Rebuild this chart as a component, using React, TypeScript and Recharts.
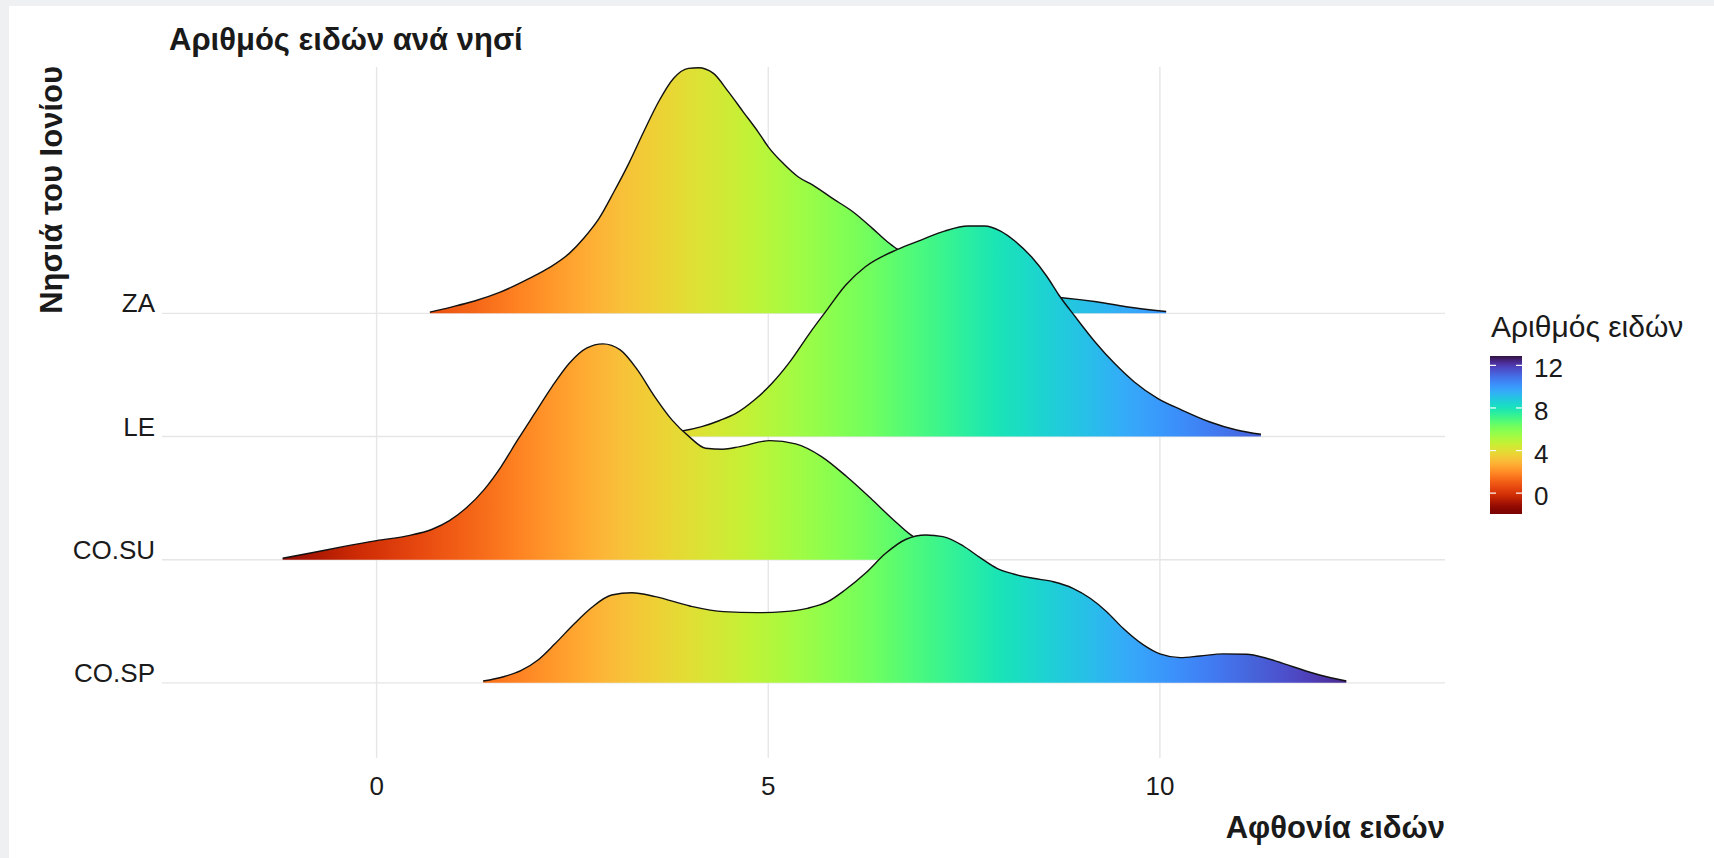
import React from "react";
import { ComposedChart, Area, XAxis, YAxis, CartesianGrid } from "recharts";

// islands from the bottom ridge up
const islands = ["CO.SP", "CO.SU", "LE", "ZA"];
const islandTicks = [1, 2, 3, 4];
const xTicks = [0, 5, 10];
const xDomain = [-2.74, 13.64];
const yDomain = [0.39, 6.0];
const legendTicks = [0, 4, 8, 12];
const fillLimits = [-1.96, 12.88];

// density height of each ridge, in units of the ridge spacing
const zaX = [0.68, 0.94, 1.25, 1.57, 1.95, 2.21, 2.46, 2.65, 2.84, 3.03, 3.22, 3.41, 3.6, 3.79, 3.98, 4.11, 4.3, 4.49, 4.68, 4.87, 5.0, 5.19, 5.38, 5.57, 5.82, 6.08, 6.33, 6.52, 6.65, 7.0, 7.4, 7.8, 8.2, 8.5, 8.75, 9.19, 9.57, 10.08];
const zaH = [0.01, 0.049, 0.1, 0.17, 0.284, 0.373, 0.487, 0.614, 0.771, 0.987, 1.218, 1.474, 1.718, 1.907, 1.989, 1.994, 1.948, 1.8, 1.636, 1.474, 1.352, 1.218, 1.109, 1.041, 0.933, 0.825, 0.69, 0.581, 0.519, 0.38, 0.26, 0.19, 0.16, 0.14, 0.127, 0.094, 0.054, 0.015];

const leX = [2.9, 3.2, 3.5, 3.7, 3.9, 4.15, 4.38, 4.58, 4.83, 5.03, 5.28, 5.53, 5.74, 5.99, 6.24, 6.65, 6.95, 7.25, 7.55, 7.76, 7.96, 8.16, 8.36, 8.56, 8.71, 8.92, 9.17, 9.42, 9.67, 9.97, 10.28, 10.63, 10.98, 11.29];
const leH = [0.005, 0.012, 0.022, 0.032, 0.045, 0.08, 0.13, 0.185, 0.3, 0.42, 0.61, 0.84, 1.02, 1.23, 1.378, 1.519, 1.595, 1.668, 1.709, 1.709, 1.67, 1.581, 1.459, 1.297, 1.149, 0.972, 0.77, 0.594, 0.445, 0.31, 0.215, 0.12, 0.053, 0.018];

const cosuX = [-1.2, -0.81, -0.43, 0.0, 0.39, 0.71, 0.93, 1.15, 1.37, 1.59, 1.8, 2.02, 2.24, 2.46, 2.68, 2.89, 3.11, 3.33, 3.55, 3.77, 3.99, 4.2, 4.42, 4.64, 5.02, 5.35, 5.68, 6.0, 6.33, 6.6, 6.82, 7.1, 7.4, 7.72];
const cosuH = [0.012, 0.058, 0.106, 0.155, 0.193, 0.247, 0.317, 0.423, 0.567, 0.756, 0.972, 1.189, 1.405, 1.595, 1.717, 1.752, 1.703, 1.541, 1.324, 1.135, 0.999, 0.905, 0.897, 0.918, 0.967, 0.94, 0.837, 0.675, 0.485, 0.323, 0.201, 0.1, 0.035, 0.005];

const cospX = [1.36, 1.62, 1.84, 2.06, 2.27, 2.53, 2.75, 3.0, 3.26, 3.56, 4.0, 4.43, 4.86, 5.2, 5.5, 5.76, 5.98, 6.24, 6.5, 6.76, 7.01, 7.23, 7.49, 7.7, 7.92, 8.13, 8.38, 8.64, 8.89, 9.11, 9.32, 9.53, 9.79, 10.0, 10.26, 10.51, 10.81, 11.11, 11.36, 11.7, 12.04, 12.38];
const cospH = [0.015, 0.05, 0.099, 0.186, 0.313, 0.484, 0.614, 0.713, 0.732, 0.7, 0.624, 0.578, 0.57, 0.578, 0.605, 0.659, 0.754, 0.89, 1.052, 1.166, 1.2, 1.187, 1.111, 1.019, 0.93, 0.884, 0.849, 0.821, 0.768, 0.687, 0.578, 0.443, 0.308, 0.235, 0.205, 0.218, 0.235, 0.232, 0.2, 0.131, 0.064, 0.015];

// drawn top first so the lower ridges overlap the upper ones
const ridges = [
  { key: "za", base: 4, xs: zaX, hs: zaH },
  { key: "le", base: 3, xs: leX, hs: leH },
  { key: "cosu", base: 2, xs: cosuX, hs: cosuH },
  { key: "cosp", base: 1, xs: cospX, hs: cospH },
];

const FONT = "'Liberation Sans', Arial, sans-serif";
const TEXT = "#1a1a1a";

// turbo colormap: polynomial approximation corrected to the viridisLite anchors
const turboAnchors = ["#30123B", "#4662D7", "#36AAF9", "#1AE4B6", "#72FE5E", "#C7EF34", "#FABA39", "#F66B19", "#CB2A04", "#7A0403"];

function turboPoly(t: number) {
  const r = 0.13572138 + t * (4.6153926 + t * (-42.66032258 + t * (132.13108234 + t * (-152.94239396 + t * 59.28637943))));
  const g = 0.09140261 + t * (2.19418839 + t * (4.84296658 + t * (-14.18503333 + t * (4.27729857 + t * 2.82956604))));
  const b = 0.1066733 + t * (12.64194608 + t * (-60.58204836 + t * (110.36276771 + t * (-89.90310912 + t * 27.34824973))));
  return [r, g, b];
}

const hexRgb = (h: string) => [1, 3, 5].map((i) => parseInt(h.slice(i, i + 2), 16) / 255);
const anchorErr = turboAnchors.map((h, i) => {
  const p = turboPoly(i / (turboAnchors.length - 1));
  const a = hexRgb(h);
  return a.map((c, k) => c - p[k]);
});

function turbo(t: number) {
  t = Math.max(0, Math.min(1, t));
  const p = turboPoly(t);
  const n = turboAnchors.length - 1;
  const i = Math.min(n - 1, Math.floor(t * n));
  const f = t * n - i;
  const rgb = p.map((c, k) => {
    const e = anchorErr[i][k] * (1 - f) + anchorErr[i + 1][k] * f;
    return Math.round(Math.max(0, Math.min(1, c + e)) * 255);
  });
  return `rgb(${rgb[0]},${rgb[1]},${rgb[2]})`;
}

// high values dark blue, low values dark red
const fillColor = (v: number) => turbo(1 - (v - fillLimits[0]) / (fillLimits[1] - fillLimits[0]));

function gradientStops(xs: number[]) {
  const lo = xs[0];
  const hi = xs[xs.length - 1];
  const stops = [];
  for (let v = lo; v <= hi + 1e-9; v += 0.2) {
    stops.push({ offset: (v - lo) / (hi - lo), color: fillColor(v) });
  }
  stops.push({ offset: 1, color: fillColor(hi) });
  return stops;
}

// grid only at the tick values (no frame round the panel)
const gridX = (p: any) => {
  const s = p?.xAxis?.scale;
  return xTicks.map((t) =>
    typeof s === "function" ? s(t) : p.offset.left + ((t - xDomain[0]) / (xDomain[1] - xDomain[0])) * p.offset.width
  );
};
const gridY = (p: any) => {
  const s = p?.yAxis?.scale;
  return islandTicks.map((t) =>
    typeof s === "function" ? s(t) : p.offset.top + ((yDomain[1] - t) / (yDomain[1] - yDomain[0])) * p.offset.height
  );
};

const YTick = (props: any) => {
  const { x, y, payload } = props;
  return (
    <text x={x - 7} y={y - 1} textAnchor="end" fontSize={26} fontFamily={FONT} fill={TEXT}>
      {islands[payload.value - 1]}
    </text>
  );
};

const XTick = (props: any) => {
  const { x, y, payload } = props;
  return (
    <text x={x} y={y + 37} textAnchor="middle" fontSize={26} fontFamily={FONT} fill={TEXT}>
      {payload.value}
    </text>
  );
};

function ColorBar() {
  const top = 356;
  const bottom = 514;
  const left = 1490;
  const w = 32;
  const toY = (v: number) => bottom - ((v - fillLimits[0]) / (fillLimits[1] - fillLimits[0])) * (bottom - top);
  const stops = [];
  for (let i = 0; i <= 40; i++) {
    const v = fillLimits[1] - (i / 40) * (fillLimits[1] - fillLimits[0]);
    stops.push(<stop key={i} offset={i / 40} stopColor={fillColor(v)} />);
  }
  return (
    <g>
      <defs>
        <linearGradient id="legend-grad" x1="0" y1="0" x2="0" y2="1">
          {stops}
        </linearGradient>
      </defs>
      <text x={1491} y={337} fontSize={30} fontFamily={FONT} fill={TEXT}>
        Αριθμός ειδών
      </text>
      <rect x={left} y={top} width={w} height={bottom - top} fill="url(#legend-grad)" />
      {legendTicks.map((t) => (
        <g key={t}>
          <line x1={left} x2={left + 6} y1={toY(t)} y2={toY(t)} stroke="#fff" strokeWidth={1.2} />
          <line x1={left + w - 6} x2={left + w} y1={toY(t)} y2={toY(t)} stroke="#fff" strokeWidth={1.2} />
          <text x={1534} y={toY(t) + 12} fontSize={26} fontFamily={FONT} fill={TEXT}>
            {t}
          </text>
        </g>
      ))}
    </g>
  );
}

export default function App() {
  return (
    <div style={{ position: "fixed", left: 0, top: 0, width: 1714, height: 858, background: "#eff0f2", overflow: "hidden" }}>
      <div style={{ position: "absolute", left: 9, top: 6, right: 0, bottom: 0, background: "#ffffff" }} />
      <div style={{ position: "absolute", left: 0, top: 0 }}>
        <ComposedChart width={1714} height={858} margin={{ top: 67, right: 269, bottom: 60, left: 0 }}>
          <defs>
            {ridges.map((r) => (
              <linearGradient key={r.key} id={`grad-${r.key}`} x1="0" y1="0" x2="1" y2="0">
                {gradientStops(r.xs).map((s, i) => (
                  <stop key={i} offset={s.offset} stopColor={s.color} />
                ))}
              </linearGradient>
            ))}
          </defs>
          <CartesianGrid
            stroke="#e6e6e6"
            strokeWidth={1.4}
            verticalCoordinatesGenerator={gridX}
            horizontalCoordinatesGenerator={gridY}
          />
          <XAxis
            dataKey="x"
            type="number"
            domain={xDomain}
            ticks={xTicks}
            allowDataOverflow
            axisLine={false}
            tickLine={false}
            tickSize={0}
            tickMargin={0}
            height={40}
            tick={<XTick />}
          />
          <YAxis
            type="number"
            domain={yDomain}
            ticks={islandTicks}
            allowDataOverflow
            axisLine={false}
            tickLine={false}
            tickSize={0}
            tickMargin={0}
            width={162}
            tick={<YTick />}
          />
          {ridges.map((r) => (
            <Area
              key={r.key}
              data={r.xs.map((x, i) => ({ x, y: r.base + r.hs[i] }))}
              dataKey="y"
              type="monotone"
              baseValue={r.base}
              fill={`url(#grad-${r.key})`}
              fillOpacity={1}
              stroke="#111"
              strokeWidth={1.4}
              dot={false}
              activeDot={false}
              isAnimationActive={false}
            />
          ))}
        </ComposedChart>
      </div>
      <svg width={1714} height={858} style={{ position: "absolute", left: 0, top: 0, pointerEvents: "none" }}>
        <text x={169} y={50} fontSize={31} fontWeight="bold" fontFamily={FONT} fill={TEXT}>
          Αριθμός ειδών ανά νησί
        </text>
        <text transform="translate(62, 66) rotate(-90)" textAnchor="end" fontSize={31} fontWeight="bold" fontFamily={FONT} fill={TEXT}>
          Νησιά του Ιονίου
        </text>
        <text x={1445} y={838} textAnchor="end" fontSize={31} fontWeight="bold" fontFamily={FONT} fill={TEXT}>
          Αφθονία ειδών
        </text>
        <ColorBar />
      </svg>
    </div>
  );
}
